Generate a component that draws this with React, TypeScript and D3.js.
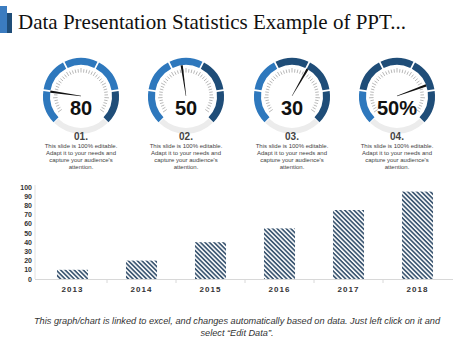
import React from "react";
import * as d3 from "d3";

const W = 474;
const H = 355;

const title = "Data Presentation Statistics Example of PPT...";
const gaugeValues = ["80", "50", "30", "50%"];
const gaugeLabels = ["01.", "02.", "03.", "04."];
const needleAngles = [-82, -8, 30, 70];
const segmentShades = [
  ["m", "m", "m", "m", "d"],
  ["m", "m", "m", "d", "d"],
  ["m", "m", "d", "d", "d"],
  ["m", "d", "d", "d", "d"],
];
const descLines = [
  "This slide is 100% editable.",
  "Adapt it to your needs and",
  "capture your audience's",
  "attention.",
];
const years = ["2013", "2014", "2015", "2016", "2017", "2018"];
const values = [10, 20, 40, 55, 75, 95];
const yTicks = [0, 10, 20, 30, 40, 50, 60, 70, 80, 90, 100];
const footer1 = "This graph/chart is linked to excel, and changes automatically based on data. Just left click on it and";
const footer2 = "select \u201cEdit Data\u201d.";

const SANS = "'Liberation Sans', Arial, sans-serif";
const MID = "#2e78bd";
const DARK = "#1f4d78";

function Gauge({ cx, cy, i }: { cx: number; cy: number; i: number }) {
  const rO = 38;
  const rI = 31;
  const toRad = (deg: number) => (deg * Math.PI) / 180;
  const seg = d3.range(5).map((k) => ({
    start: toRad(-135 + k * 54),
    end: toRad(-135 + (k + 1) * 54),
  }));
  const arc = d3.arc<any>().innerRadius(rI).outerRadius(rO).padAngle(0.035);
  const grey = d3.arc<any>().innerRadius(rI + 1).outerRadius(rO)({ startAngle: toRad(135), endAngle: toRad(225) } as any);
  const ticks = d3.range(0, 41).map((k) => -125 + (k * 250) / 40);
  const a = toRad(needleAngles[i]);
  const L = 31;
  const tip = [Math.sin(a) * L, -Math.cos(a) * L];
  const perp = [Math.cos(a), Math.sin(a)];
  const wT = 1.1;
  const wB = 0.2;
  const needle = `M${perp[0] * wB},${perp[1] * wB} L${tip[0] + perp[0] * wT},${tip[1] + perp[1] * wT} L${tip[0] - perp[0] * wT},${tip[1] - perp[1] * wT} L${-perp[0] * wB},${-perp[1] * wB} Z`;
  return (
    <g transform={`translate(${cx},${cy})`}>
      <path d={grey as string} fill="#ececec" />
      {seg.map((s, k) => (
        <path key={k} d={arc({ startAngle: s.start, endAngle: s.end } as any) as string} fill={segmentShades[i][k] === "m" ? MID : DARK} />
      ))}
      {ticks.map((t, k) => {
        const r = toRad(t);
        const r1 = 23.5;
        const r2 = k % 5 === 0 ? 28 : 27;
        return (
          <line key={k} x1={Math.sin(r) * r1} y1={-Math.cos(r) * r1} x2={Math.sin(r) * r2} y2={-Math.cos(r) * r2} stroke="#9a9a9a" strokeWidth={0.7} />
        );
      })}
      <path d={needle} fill="#111" />
      <text x={0} y={19} textAnchor="middle" fontFamily={SANS} fontWeight="bold" fontSize={20} fill="#111">
        {gaugeValues[i]}
      </text>
      <text x={0} y={44} textAnchor="middle" fontFamily={SANS} fontWeight="bold" fontSize={10} fill="#444">
        {gaugeLabels[i]}
      </text>
      {descLines.map((l, k) => (
        <text key={k} x={0} y={52 + k * 7} textAnchor="middle" fontFamily={SANS} fontSize={6} fill="#444">
          {l}
        </text>
      ))}
    </g>
  );
}

export default function App() {
  const x = d3.scaleBand<string>().domain(years).range([38, 452]).paddingInner(0.55).paddingOuter(0.275);
  const y = d3.scaleLinear().domain([0, 100]).range([279, 187]);
  const band = d3.scaleBand<string>().domain(years).range([38, 452]);
  const gaugeX = [81, 186, 292, 397];
  return (
    <svg width={W} height={H} style={{ position: "absolute", left: 0, top: 0, background: "#fff" }}>
      <defs>
        <pattern id="hatch" patternUnits="userSpaceOnUse" width={3.2} height={3.2} patternTransform="rotate(45)">
          <rect width={3.2} height={3.2} fill="#fff" />
          <rect width={3.2} height={1.7} fill="#3e5873" />
        </pattern>
      </defs>
      <rect x={0} y={6} width={7} height={27} fill="#3b7cc0" />
      <rect x={7} y={13} width={5} height={20} fill="#1f4d78" />
      <text x={18} y={29} fontFamily="'Liberation Serif', 'Times New Roman', serif" fontSize={21} fill="#111">
        {title}
      </text>
      {gaugeX.map((gx, i) => (
        <Gauge key={i} cx={gx} cy={96} i={i} />
      ))}
      {/* bar chart */}
      <line x1={35} x2={35} y1={185} y2={279} stroke="#e2e2e2" strokeWidth={1} />
      <line x1={35} x2={453} y1={279.5} y2={279.5} stroke="#d8d8d8" strokeWidth={1} />
      {years.slice(1).map((yr) => (
        <line key={yr} x1={band(yr)!} x2={band(yr)!} y1={279.5} y2={283} stroke="#d8d8d8" strokeWidth={1} />
      ))}
      {yTicks.map((t) => (
        <text key={t} x={32} y={y(t) + 2.5} textAnchor="end" fontFamily={SANS} fontWeight="bold" fontSize={7} fill="#333">
          {t}
        </text>
      ))}
      {years.map((yr, i) => (
        <rect key={yr} x={x(yr)!} y={y(values[i])} width={x.bandwidth()} height={y(0) - y(values[i])} fill="url(#hatch)" />
      ))}
      {years.map((yr) => (
        <text key={yr} x={band(yr)! + band.bandwidth() / 2} y={292} textAnchor="middle" fontFamily={SANS} fontWeight="bold" fontSize={8} letterSpacing={1} fill="#333">
          {yr}
        </text>
      ))}
      <text x={237} y={324} textAnchor="middle" fontFamily={SANS} fontStyle="italic" fontSize={9.2} fill="#333">
        {footer1}
      </text>
      <text x={237} y={336} textAnchor="middle" fontFamily={SANS} fontStyle="italic" fontSize={9.2} fill="#333">
        {footer2}
      </text>
    </svg>
  );
}
